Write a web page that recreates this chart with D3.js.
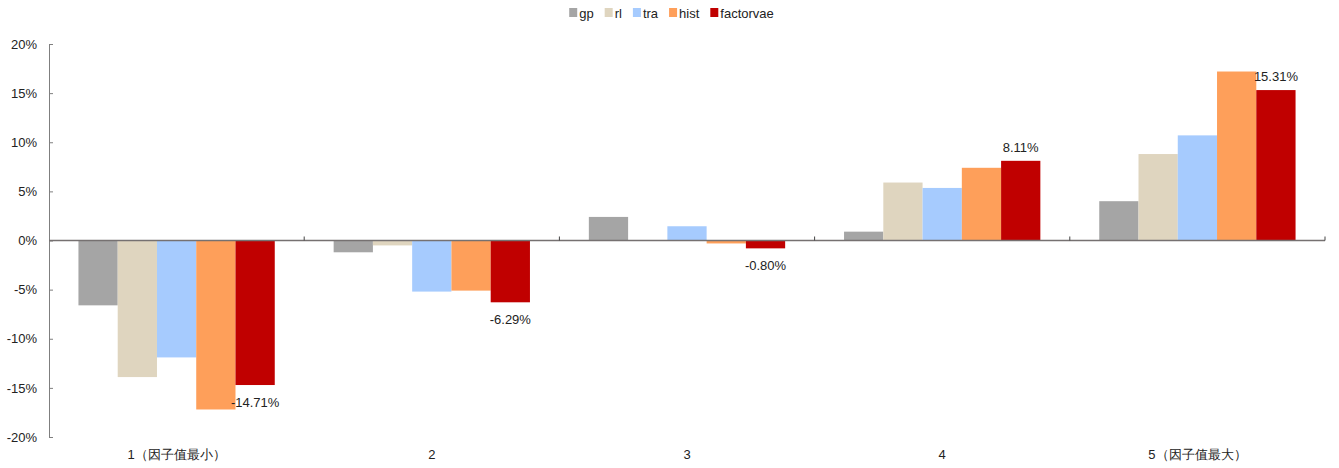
<!DOCTYPE html>
<html>
<head>
<meta charset="utf-8">
<script src="https://cdn.jsdelivr.net/npm/d3@7"></script>
<style>
  body { margin: 0; background: #fff; }
  text { font-family: "Liberation Sans", Arial, sans-serif; fill: #222; }
</style>
</head>
<body>
<svg id="chart"></svg>
<script>
const categories = ['1（因子值最小）', '2', '3', '4', '5（因子值最大）'];
const seriesNames = ['gp', 'rl', 'tra', 'hist', 'factorvae'];
const gp = [-6.6, -1.2, 2.4, 0.9, 4.0];
const rl = [-13.9, -0.5, -0.05, 5.9, 8.8];
const tra = [-11.9, -5.2, 1.45, 5.35, 10.7];
const hist = [-17.2, -5.1, -0.3, 7.4, 17.2];
const factorvae = [-14.71, -6.29, -0.80, 8.11, 15.31];
const yTicks = [-20, -15, -10, -5, 0, 5, 10, 15, 20];
const colors = ['#a5a5a5', '#dfd5bf', '#a6cbfe', '#fe9f5a', '#c00000'];

const seriesValues = [gp, rl, tra, hist, factorvae];

const width = 1339, height = 468;
const margin = {top: 44, right: 14, bottom: 31, left: 49};
const innerW = width - margin.left - margin.right;
const innerH = height - margin.top - margin.bottom;

const svg = d3.select('#chart')
    .attr('width', width)
    .attr('height', height);

const chart = svg.append('g')
    .attr('transform', `translate(${margin.left},${margin.top})`);

const x0 = d3.scaleBand()
    .domain(categories)
    .range([0, innerW])
    .paddingInner(0)
    .paddingOuter(0);

const x1 = d3.scaleBand()
    .domain(seriesNames)
    .range([0, x0.bandwidth()])
    .paddingInner(0)
    .paddingOuter(0.75);

const y = d3.scaleLinear()
    .domain([-20, 20])
    .range([innerH, 0]);

const color = d3.scaleOrdinal().domain(seriesNames).range(colors);

// y axis
const yAxisG = chart.append('g')
    .call(d3.axisLeft(y).tickValues(yTicks).tickSize(-4).tickPadding(12).tickFormat(d => d + '%'));
yAxisG.select('.domain').attr('stroke', '#7f7f7f');
yAxisG.selectAll('.tick line').attr('stroke', '#7f7f7f');
yAxisG.selectAll('.tick text').style('font-size', '13px').attr('fill', '#222');

// bars
const groups = chart.selectAll('.group')
    .data(categories)
    .join('g')
    .attr('class', 'group')
    .attr('transform', d => `translate(${x0(d)},0)`);

groups.selectAll('rect')
    .data((c, i) => seriesNames.map((s, j) => ({series: s, value: seriesValues[j][i]})))
    .join('rect')
    .attr('x', d => x1(d.series))
    .attr('width', x1.bandwidth())
    .attr('y', d => y(Math.max(0, d.value)))
    .attr('height', d => Math.abs(y(d.value) - y(0)))
    .attr('fill', d => color(d.series));

// zero axis with category ticks
const xAxisG = chart.append('g')
    .attr('transform', `translate(0,${y(0)})`);
xAxisG.append('line')
    .attr('x1', 0).attr('x2', innerW)
    .attr('stroke', '#767171').attr('stroke-width', 1.5);
xAxisG.selectAll('.ctick')
    .data(categories.slice(1).concat(['end']))
    .join('line')
    .attr('class', 'ctick')
    .attr('x1', (d, i) => (i + 1) * x0.step())
    .attr('x2', (d, i) => (i + 1) * x0.step())
    .attr('y1', 0).attr('y2', -4)
    .attr('stroke', '#444');

// category labels
chart.selectAll('.cat-label')
    .data(categories)
    .join('text')
    .attr('class', 'cat-label')
    .attr('x', d => x0(d) + x0.bandwidth() / 2)
    .attr('y', innerH + 22)
    .attr('text-anchor', 'middle')
    .style('font-size', '13px')
    .text(d => d);

// factorvae value labels
chart.selectAll('.val-label')
    .data(factorvae)
    .join('text')
    .attr('class', 'val-label')
    .attr('x', (d, i) => x0(categories[i]) + x1('factorvae') + x1.bandwidth() / 2)
    .attr('y', d => d >= 0 ? y(d) - 9 : y(d) + 22)
    .attr('text-anchor', 'middle')
    .style('font-size', '13px')
    .text(d => d.toFixed(2) + '%');

// legend
const legend = svg.append('g');
let lx = 0;
const gap = 11;
seriesNames.forEach((s, i) => {
    const item = legend.append('g').attr('transform', `translate(${lx},0)`);
    item.append('rect')
        .attr('x', 0).attr('y', -5)
        .attr('width', 8).attr('height', 9)
        .attr('fill', colors[i]);
    const t = item.append('text')
        .attr('x', 10).attr('y', 4.5)
        .style('font-size', '13px')
        .text(s);
    lx += 10 + t.node().getComputedTextLength() + gap;
});
// center legend
const lw = lx - gap;
legend.attr('transform', `translate(${(width - lw) / 2 + 2},13)`);
</script>
</body>
</html>
